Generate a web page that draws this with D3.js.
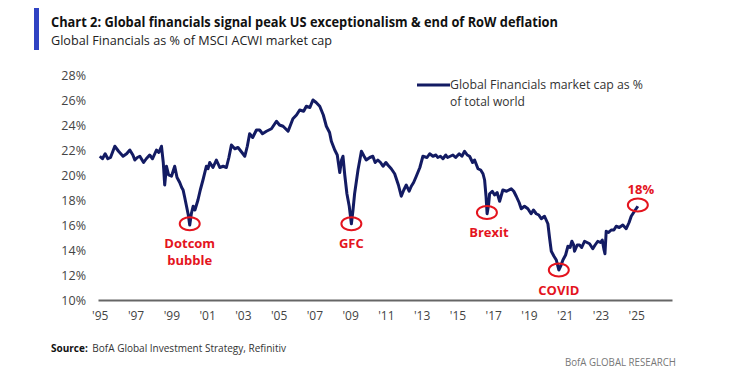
<!DOCTYPE html>
<html>
<head>
<meta charset="utf-8">
<script src="https://cdn.jsdelivr.net/npm/d3@7"></script>
<style>
  body { margin: 0; background: #fff; }
  svg { display: block; font-family: "Open Sans", "Noto Sans", sans-serif; }
</style>
</head>
<body>
<svg id="chart"></svg>
<script>
// Global Financials as % of MSCI ACWI market cap
var years = [
  1995.00, 1995.15, 1995.30, 1995.45, 1995.60, 1995.84, 1996.05, 1996.30, 1996.50, 1996.68,
  1996.85, 1996.96, 1997.10, 1997.24, 1997.45, 1997.60, 1997.79, 1997.95, 1998.17, 1998.30,
  1998.45, 1998.55, 1998.63, 1998.73, 1998.85, 1999.01, 1999.10, 1999.19, 1999.32, 1999.47,
  1999.58, 1999.66, 1999.75, 1999.85, 1999.95, 2000.03, 2000.12, 2000.22, 2000.32, 2000.49,
  2000.62, 2000.77, 2000.96, 2001.05, 2001.15, 2001.33, 2001.52, 2001.71, 2001.90, 2002.08,
  2002.22, 2002.36, 2002.55, 2002.73, 2002.95, 2003.11, 2003.25, 2003.38, 2003.55, 2003.76,
  2003.94, 2004.10, 2004.32, 2004.60, 2004.88, 2005.05, 2005.25, 2005.53, 2005.80, 2006.00,
  2006.18, 2006.40, 2006.55, 2006.75, 2006.92, 2007.10, 2007.30, 2007.50, 2007.67, 2007.85,
  2007.95, 2008.14, 2008.28, 2008.42, 2008.52, 2008.60, 2008.70, 2008.82, 2008.95, 2009.07,
  2009.16, 2009.25, 2009.44, 2009.63, 2009.78, 2009.90, 2010.10, 2010.27, 2010.40, 2010.55,
  2010.70, 2010.84, 2011.00, 2011.11, 2011.30, 2011.49, 2011.70, 2011.86, 2012.00, 2012.14,
  2012.30, 2012.42, 2012.55, 2012.70, 2012.90, 2013.07, 2013.30, 2013.45, 2013.63, 2013.80,
  2013.90, 2014.05, 2014.19, 2014.35, 2014.45, 2014.60, 2014.75, 2014.90, 2015.10, 2015.25,
  2015.40, 2015.55, 2015.68, 2015.85, 2015.96, 2016.15, 2016.30, 2016.43, 2016.52, 2016.60,
  2016.66, 2016.74, 2016.80, 2016.95, 2017.08, 2017.22, 2017.36, 2017.54, 2017.75, 2018.01,
  2018.15, 2018.29, 2018.45, 2018.57, 2018.75, 2018.94, 2019.12, 2019.25, 2019.41, 2019.55,
  2019.69, 2019.87, 2020.06, 2020.15, 2020.25, 2020.40, 2020.53, 2020.67, 2020.80, 2020.90,
  2021.05, 2021.18, 2021.30, 2021.40, 2021.50, 2021.55, 2021.70, 2021.83, 2021.95, 2022.11,
  2022.25, 2022.39, 2022.57, 2022.70, 2022.85, 2023.00, 2023.10, 2023.20, 2023.25, 2023.32,
  2023.45, 2023.60, 2023.75, 2023.88, 2024.05, 2024.25, 2024.44, 2024.60, 2024.72, 2024.90,
  2025.09
];
var share = [
  21.5, 21.3, 21.7, 21.3, 21.4, 22.3, 21.9, 21.5, 21.7, 22.0,
  21.6, 21.2, 21.4, 21.5, 21.0, 21.3, 21.6, 21.3, 22.0, 21.8,
  22.3, 21.0, 19.2, 20.7, 20.0, 19.9, 20.3, 20.7, 19.8, 19.4,
  19.0, 18.8, 18.2, 17.5, 16.8, 16.0, 16.9, 17.5, 17.2, 18.0,
  18.8, 19.6, 20.7, 20.5, 21.0, 20.6, 21.2, 20.6, 20.7, 20.6,
  21.4, 22.4, 22.1, 22.2, 21.8, 21.5, 22.3, 23.3, 23.0, 23.6,
  23.6, 23.3, 23.5, 23.7, 24.3, 24.0, 23.9, 23.5, 24.5, 24.8,
  25.2, 25.1, 25.5, 25.4, 26.0, 25.8, 25.5, 24.8, 23.9, 23.4,
  22.7, 22.0, 21.6, 20.2, 21.2, 21.5, 20.0, 18.5, 17.5, 16.1,
  17.2, 18.5, 20.4, 21.9, 21.5, 21.2, 21.4, 21.5, 21.0, 21.2,
  21.0, 20.7, 21.0, 20.8, 20.5, 20.1, 19.2, 18.3, 18.8, 19.2,
  18.7, 19.1, 19.4, 19.9, 20.6, 21.5, 21.4, 21.7, 21.5, 21.6,
  21.4, 21.5, 21.3, 21.6, 21.4, 21.5, 21.6, 21.4, 21.7, 21.5,
  21.9, 21.6, 21.5, 21.0, 21.2, 20.5, 20.4, 20.1, 19.6, 18.3,
  16.9, 17.6, 18.5, 18.7, 18.4, 18.6, 17.9, 18.8, 18.7, 18.9,
  18.7, 18.3, 17.8, 17.3, 17.5, 17.3, 16.9, 17.2, 16.9, 16.8,
  16.5, 16.7, 16.1, 15.0, 13.9, 13.5, 13.2, 12.4, 12.8, 13.2,
  13.6, 14.3, 14.2, 14.7, 14.4, 13.9, 14.4, 14.4, 14.2, 14.7,
  14.6, 14.5, 14.1, 14.4, 14.7, 14.6, 14.8, 14.0, 13.7, 15.5,
  15.4, 15.6, 15.6, 15.9, 15.8, 16.0, 15.7, 16.2, 16.7, 17.1,
  17.5
];

var yTicks = [10, 12, 14, 16, 18, 20, 22, 24, 26, 28];
var xTicks = [1995, 1997, 1999, 2001, 2003, 2005, 2007, 2009, 2011, 2013, 2015, 2017, 2019, 2021, 2023, 2025];

// circled events
var eventNames = ["Dotcom", "GFC", "Brexit", "COVID", "18%"];
var eventYears = [2000.03, 2009.07, 2016.65, 2020.67, 2025.09];
var eventValues = [16.1, 16.1, 17.0, 12.4, 17.6];
var eventLabels = [["Dotcom", "bubble"], ["GFC"], ["Brexit"], ["COVID"], ["18%"]];

var width = 730, height = 380;
var navy = "#131b63", red = "#e4141e", grey = "#444";

var svg = d3.select("#chart")
  .attr("width", width)
  .attr("height", height);

// header
svg.append("rect")
  .attr("x", 34).attr("y", 8)
  .attr("width", 5).attr("height", 42)
  .attr("fill", "#2f43c3");

svg.append("text")
  .attr("x", 51).attr("y", 27)
  .attr("font-size", 14.5)
  .attr("font-weight", 700)
  .attr("fill", "#111")
  .attr("textLength", 507)
  .attr("lengthAdjust", "spacingAndGlyphs")
  .text("Chart 2: Global financials signal peak US exceptionalism & end of RoW deflation");

svg.append("text")
  .attr("x", 51).attr("y", 45)
  .attr("font-size", 13)
  .attr("fill", "#222")
  .attr("textLength", 281)
  .attr("lengthAdjust", "spacingAndGlyphs")
  .text("Global Financials as % of MSCI ACWI market cap");

var x = d3.scaleLinear()
  .domain([1994.9, 2027])
  .range([98, 672]);

var y = d3.scaleLinear()
  .domain([10, 28])
  .range([300, 75]);

// y labels (no axis line)
svg.append("g")
  .attr("class", "y-axis")
  .attr("transform", "translate(86,0)")
  .call(d3.axisLeft(y).tickValues(yTicks).tickSize(0).tickPadding(0)
    .tickFormat(function(d) { return d + "%"; }))
  .call(function(g) {
    g.select(".domain").remove();
    g.selectAll("text")
      .attr("font-family", "Open Sans, sans-serif")
      .attr("font-size", 12.5)
      .attr("fill", grey);
  });

// x axis
svg.append("g")
  .attr("class", "x-axis")
  .attr("transform", "translate(0,300)")
  .call(d3.axisBottom(x).tickValues(xTicks).tickSize(0).tickPadding(11)
    .tickFormat(function(d) { return "'" + String(d).slice(2); }))
  .call(function(g) {
    g.select(".domain")
      .attr("stroke", "#666")
      .attr("stroke-width", 2);
    g.selectAll("text")
      .attr("font-family", "Open Sans, sans-serif")
      .attr("font-size", 12)
      .attr("fill", grey);
  });

var points = years.map(function(d, i) { return [d, share[i]]; });

var line = d3.line()
  .x(function(d) { return x(d[0]); })
  .y(function(d) { return y(d[1]); });

svg.append("path")
  .datum(points)
  .attr("d", line)
  .attr("fill", "none")
  .attr("stroke", navy)
  .attr("stroke-width", 3)
  .attr("stroke-linejoin", "round");

// legend
svg.append("line")
  .attr("x1", 417).attr("x2", 450)
  .attr("y1", 85).attr("y2", 85)
  .attr("stroke", navy)
  .attr("stroke-width", 3);

svg.append("text")
  .attr("x", 450).attr("y", 89)
  .attr("font-size", 12)
  .attr("fill", "#333")
  .attr("textLength", 193)
  .attr("lengthAdjust", "spacingAndGlyphs")
  .text("Global Financials market cap as %");

svg.append("text")
  .attr("x", 450).attr("y", 106)
  .attr("font-size", 12)
  .attr("fill", "#333")
  .text("of total world");

// event circles and labels
var ev = svg.selectAll(".event")
  .data(eventNames)
  .enter().append("g")
    .attr("class", "event")
    .attr("transform", function(d, i) {
      return "translate(" + x(eventYears[i]) + "," + y(eventValues[i]) + ")";
    });

ev.append("ellipse")
  .attr("rx", 10).attr("ry", 6.5)
  .attr("fill", "none")
  .attr("stroke", red)
  .attr("stroke-width", 2);

ev.each(function(d, i) {
  var lines = eventLabels[i];
  var above = d === "18%";
  var dx = d === "Brexit" ? 2 : (d === "18%" ? 3 : 0);
  lines.forEach(function(t, j) {
    d3.select(this).append("text")
      .attr("x", dx)
      .attr("y", above ? -16 : 20 + j * 16.5)
      .attr("dy", "0.35em")
      .attr("text-anchor", "middle")
      .attr("font-size", 13)
      .attr("font-weight", 700)
      .attr("fill", red)
      .text(t);
  }, this);
});

// footer
var source = svg.append("text")
  .attr("x", 51).attr("y", 352)
  .attr("font-size", 11)
  .attr("fill", "#333")
  .attr("textLength", 235)
  .attr("lengthAdjust", "spacingAndGlyphs");

source.append("tspan")
  .attr("font-weight", 700)
  .attr("fill", "#111")
  .text("Source:");

source.append("tspan")
  .attr("dx", 5)
  .text("BofA Global Investment Strategy, Refinitiv");

svg.append("text")
  .attr("x", 676).attr("y", 366)
  .attr("text-anchor", "end")
  .attr("font-size", 11)
  .attr("fill", "#777")
  .attr("textLength", 111)
  .attr("lengthAdjust", "spacingAndGlyphs")
  .text("BofA GLOBAL RESEARCH");
</script>
</body>
</html>
